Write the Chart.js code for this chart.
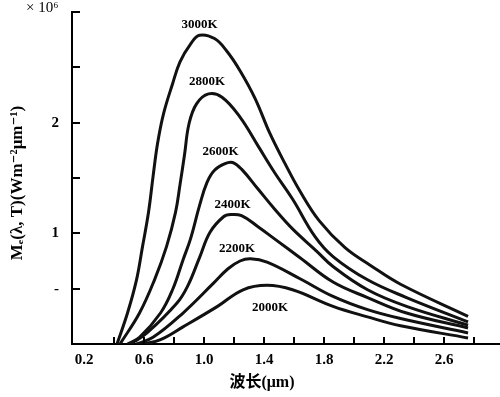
<!DOCTYPE html>
<html>
<head>
<meta charset="utf-8">
<script src="https://cdn.jsdelivr.net/npm/chart.js@4.4.1/dist/chart.umd.min.js"></script>
<style>
  html, body { margin: 0; padding: 0; background: #fff; }
  canvas { display: block; }
</style>
</head>
<body>
<canvas id="planckChart" width="500" height="397"></canvas>
<script>
/* global document, Chart */
// 黑体辐射出射度曲线（读图数值，单位 ×10^6 W m^-2 μm^-1）
const temperatures = ['3000K', '2800K', '2600K', '2400K', '2200K', '2000K'];

const wl3000 = [0.42, 0.49, 0.55, 0.59, 0.63, 0.66, 0.69, 0.73, 0.79, 0.84, 0.91, 0.97, 1.07, 1.15, 1.24, 1.34, 1.44, 1.54, 1.64, 1.77, 1.94, 2.11, 2.31, 2.76];
const me3000 = [0, 0.28, 0.58, 0.88, 1.19, 1.51, 1.81, 2.08, 2.35, 2.55, 2.71, 2.79, 2.76, 2.65, 2.47, 2.22, 1.90, 1.63, 1.38, 1.11, 0.87, 0.71, 0.54, 0.25];

const wl2800 = [0.44, 0.57, 0.67, 0.75, 0.81, 0.84, 0.87, 0.90, 0.95, 1.03, 1.12, 1.24, 1.36, 1.47, 1.59, 1.74, 1.86, 2.09, 2.35, 2.76];
const me2800 = [0, 0.28, 0.58, 0.88, 1.19, 1.44, 1.71, 1.99, 2.17, 2.26, 2.23, 2.05, 1.79, 1.55, 1.31, 0.97, 0.79, 0.58, 0.42, 0.20];

const wl2600 = [0.49, 0.57, 0.71, 0.79, 0.86, 0.91, 0.97, 1.02, 1.07, 1.14, 1.19, 1.25, 1.36, 1.47, 1.59, 1.75, 1.86, 2.09, 2.35, 2.76];
const me2600 = [0, 0.06, 0.28, 0.49, 0.76, 0.95, 1.25, 1.46, 1.57, 1.63, 1.64, 1.58, 1.40, 1.22, 1.04, 0.84, 0.70, 0.49, 0.34, 0.17];

const wl2400 = [0.51, 0.62, 0.82, 0.89, 0.97, 1.04, 1.13, 1.18, 1.25, 1.36, 1.47, 1.64, 1.86, 2.09, 2.35, 2.76];
const me2400 = [0, 0.10, 0.37, 0.52, 0.78, 1.01, 1.15, 1.17, 1.16, 1.06, 0.95, 0.78, 0.56, 0.42, 0.28, 0.145];

const wl2200 = [0.55, 0.66, 0.86, 1.06, 1.16, 1.24, 1.31, 1.42, 1.64, 1.86, 2.09, 2.31, 2.76];
const me2200 = [0, 0.06, 0.28, 0.545, 0.68, 0.75, 0.77, 0.74, 0.59, 0.43, 0.31, 0.23, 0.10];

const wl2000 = [0.59, 0.71, 0.86, 1.09, 1.26, 1.42, 1.59, 1.86, 2.09, 2.31, 2.76];
const me2000 = [0, 0.04, 0.155, 0.34, 0.49, 0.53, 0.49, 0.34, 0.245, 0.165, 0.055];

// 曲线标注位置（数据坐标）
const labelLambda = [0.97, 1.02, 1.11, 1.19, 1.22, 1.44];
const labelValue = [2.89, 2.37, 1.74, 1.26, 0.86, 0.33];

// 坐标轴刻度
const xTickValues = [0.2, 0.4, 0.6, 0.8, 1.0, 1.2, 1.4, 1.6, 1.8, 2.0, 2.2, 2.4, 2.6, 2.8];
const xLabeled = ['0.2', '0.6', '1.0', '1.4', '1.8', '2.2', '2.6'];
const yTickValues = [0.5, 1, 1.5, 2, 2.5, 3];
const yLabels = { 0.5: '-', 1: '1', 2: '2' };

const wavelengths = [wl3000, wl2800, wl2600, wl2400, wl2200, wl2000];
const exitances = [me3000, me2800, me2600, me2400, me2200, me2000];

const serif = '"Liberation Serif", "DejaVu Serif", serif';

function toPoints(xs, ys) {
  return xs.map((x, i) => ({ x: x, y: ys[i] }));
}

// 坐标轴内侧刻度线与文字标注
const annotations = {
  id: 'annotations',
  afterDraw(chart) {
    const { ctx, chartArea, scales } = chart;
    const x = scales.x;
    const y = scales.y;
    ctx.save();
    ctx.strokeStyle = '#000';
    ctx.lineWidth = 2;
    ctx.beginPath();
    xTickValues.forEach(function (v) {
      if (v < 0.3) return;
      const px = Math.round(x.getPixelForValue(v));
      ctx.moveTo(px, chartArea.bottom);
      ctx.lineTo(px, chartArea.bottom - 7);
    });
    yTickValues.forEach(function (v) {
      const py = Math.round(y.getPixelForValue(v));
      ctx.moveTo(chartArea.left, py);
      ctx.lineTo(chartArea.left + 8, py);
    });
    ctx.stroke();

    ctx.fillStyle = '#000';
    ctx.textAlign = 'center';
    ctx.textBaseline = 'middle';
    ctx.font = 'bold 13px ' + serif;
    temperatures.forEach(function (t, i) {
      ctx.fillText(t, x.getPixelForValue(labelLambda[i]), y.getPixelForValue(labelValue[i]));
    });

    // x 轴标题
    ctx.font = 'bold 16px ' + serif + ', "Noto Sans CJK SC"';
    ctx.fillText('波长(μm)', 262, 383);

    // 量级
    ctx.textAlign = 'left';
    ctx.font = '15px ' + serif;
    ctx.fillText('× 10⁶', 26, 8);

    // y 轴标题
    ctx.translate(18, 183);
    ctx.rotate(-Math.PI / 2);
    ctx.textAlign = 'center';
    ctx.font = 'bold 17px ' + serif;
    ctx.fillText('Mₑ(λ, T)(Wm⁻²μm⁻¹)', 0, 0);
    ctx.restore();
  },
};

document.addEventListener('DOMContentLoaded', function () {
  const ctx = document.getElementById('planckChart').getContext('2d');
  new Chart(ctx, {
    type: 'line',
    data: {
      datasets: temperatures.map(function (t, i) {
        return {
          label: t,
          data: toPoints(wavelengths[i], exitances[i]),
          borderColor: '#111',
          borderWidth: 3,
          pointRadius: 0,
          fill: false,
          tension: 0.4,
        };
      }),
    },
    options: {
      responsive: false,
      animation: false,
      layout: { padding: { top: 12, left: 0, right: 0, bottom: 0 } },
      plugins: {
        legend: { display: false },
        tooltip: { enabled: false },
      },
      scales: {
        x: {
          type: 'linear',
          min: 0.12,
          max: 2.973,
          afterBuildTicks: function (scale) {
            scale.ticks = xTickValues.map(function (v) { return { value: v }; });
          },
          afterFit: function (scale) {
            scale.height = 53;
            scale.paddingLeft = 0;
            scale.paddingRight = 0;
          },
          grid: { display: true, drawOnChartArea: false, drawTicks: false },
          border: { display: true, color: '#000', width: 2 },
          ticks: {
            autoSkip: false,
            maxRotation: 0,
            padding: 7,
            color: '#000',
            font: { family: serif, size: 15, weight: 'bold' },
            callback: function (value) {
              const s = Number(value).toFixed(1);
              return xLabeled.includes(s) ? s : '';
            },
          },
        },
        y: {
          type: 'linear',
          min: 0,
          max: 3,
          afterFit: function (scale) {
            scale.width = 72;
            scale.paddingTop = 0;
            scale.paddingBottom = 0;
          },
          grid: { display: true, drawOnChartArea: false, drawTicks: false },
          border: { display: true, color: '#000', width: 2 },
          ticks: {
            stepSize: 0.5,
            padding: 13,
            color: '#000',
            font: { family: serif, size: 15, weight: 'bold' },
            callback: function (value) {
              return yLabels[value] || '';
            },
          },
        },
      },
    },
    plugins: [annotations],
  });
});
</script>
</body>
</html>
